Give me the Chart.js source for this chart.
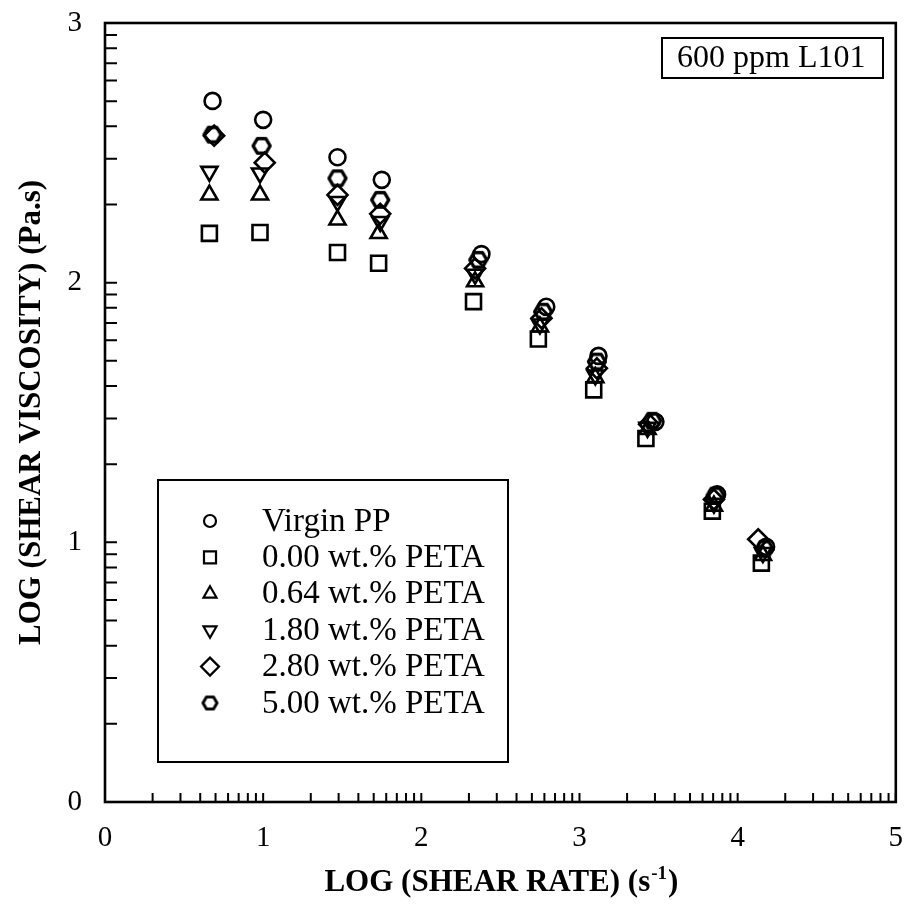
<!DOCTYPE html>
<html>
<head>
<meta charset="utf-8">
<script src="https://cdn.jsdelivr.net/npm/chart.js@4.4.1/dist/chart.umd.min.js"></script>
<style>
  html, body { margin: 0; padding: 0; background: #fff; }
  #wrap { width: 909px; height: 918px; }
</style>
</head>
<body>
<div id="wrap"><canvas id="c" width="909" height="918"></canvas></div>
<script>
// ---- data: log(shear rate) vs log(shear viscosity), 600 ppm L101 ----
const seriesNames = ['Virgin PP', '0.00 wt.% PETA', '0.64 wt.% PETA', '1.80 wt.% PETA', '2.80 wt.% PETA', '5.00 wt.% PETA'];

const virginRate = [0.68, 1.00, 1.47, 1.75, 2.38, 2.79, 3.12, 3.48, 3.87, 4.18];
const virginVisc = [2.700, 2.627, 2.483, 2.396, 2.110, 1.907, 1.718, 1.464, 1.185, 0.983];

const peta000Rate = [0.66, 0.98, 1.47, 1.73, 2.33, 2.74, 3.09, 3.42, 3.84, 4.15];
const peta000Visc = [2.190, 2.193, 2.116, 2.075, 1.927, 1.783, 1.587, 1.400, 1.120, 0.920];

const peta064Rate = [0.66, 0.98, 1.47, 1.73, 2.34, 2.75, 3.10, 3.43, 3.85, 4.16];
const peta064Visc = [2.338, 2.338, 2.242, 2.190, 2.004, 1.830, 1.635, 1.435, 1.140, 0.950];

const peta180Rate = [0.66, 0.98, 1.47, 1.74, 2.34, 2.75, 3.10, 3.43, 3.85, 4.16];
const peta180Visc = [2.428, 2.422, 2.312, 2.235, 2.032, 1.840, 1.644, 1.442, 1.150, 0.960];

const peta280Rate = [0.69, 1.01, 1.47, 1.74, 2.34, 2.76, 3.11, 3.44, 3.85, 4.13];
const peta280Visc = [2.566, 2.462, 2.338, 2.265, 2.055, 1.863, 1.670, 1.455, 1.165, 1.012];

const peta500Rate = [0.68, 0.99, 1.47, 1.74, 2.36, 2.77, 3.11, 3.46, 3.86, 4.17];
const peta500Visc = [2.570, 2.527, 2.402, 2.319, 2.088, 1.888, 1.696, 1.468, 1.180, 0.975];

const xTickLabels = ['0', '1', '2', '3', '4', '5'];
const yTickLabels = ['0', '1', '2', '3'];

// ---- styling ----
const SERIF = '"Liberation Serif", "Times New Roman", serif';

// hexagon marker (flat top and bottom) rendered once into a small canvas
function hexagonCanvas(R, lw) {
  const size = Math.ceil(2 * R + lw + 2);
  const cv = document.createElement('canvas');
  cv.width = size; cv.height = size;
  const g = cv.getContext('2d');
  g.strokeStyle = '#000';
  g.lineWidth = lw;
  g.lineJoin = 'round';
  g.beginPath();
  for (let i = 0; i < 6; i++) {
    const a = i * Math.PI / 3;
    const px = size / 2 + R * Math.cos(a);
    const py = size / 2 + R * Math.sin(a);
    if (i === 0) g.moveTo(px, py); else g.lineTo(px, py);
  }
  g.closePath();
  g.stroke();
  g.stroke();
  return cv;
}

const markerStyles = [
  { pointStyle: 'circle',   radius: 8,    rotation: 0,   legendRadius: 6 },
  { pointStyle: 'rect',     radius: 10.6, rotation: 0,   legendRadius: 8.5 },
  { pointStyle: 'triangle', radius: 9.3,  rotation: 0,   legendRadius: 7.5 },
  { pointStyle: 'triangle', radius: 9.3,  rotation: 180, legendRadius: 7.5 },
  { pointStyle: 'rectRot',  radius: 10,   rotation: 0,   legendRadius: 9 },
  { pointStyle: hexagonCanvas(8.5, 3), radius: 9, rotation: 0, legendRadius: 7, legendStyle: hexagonCanvas(7, 2.6) }
];

const rates = [virginRate, peta000Rate, peta064Rate, peta180Rate, peta280Rate, peta500Rate];
const viscs = [virginVisc, peta000Visc, peta064Visc, peta180Visc, peta280Visc, peta500Visc];

const datasets = seriesNames.map((name, i) => ({
  label: name,
  data: rates[i].map((r, j) => ({ x: r, y: viscs[i][j] })),
  pointStyle: markerStyles[i].pointStyle,
  pointRadius: markerStyles[i].radius,
  pointRotation: markerStyles[i].rotation,
  pointBorderWidth: 2.6,
  pointBorderColor: '#000',
  pointBackgroundColor: 'rgba(0,0,0,0)',
  showLine: false
}));

// log-decade minor tick positions
function decadeTicks(lo, hi) {
  const out = [];
  for (let d = lo; d < hi; d++) {
    for (let k = 2; k <= 10; k++) out.push(d + Math.log10(k));
  }
  return out;
}

const frameAndTicks = {
  id: 'frameAndTicks',
  beforeDatasetsDraw(chart) {
    const { ctx, chartArea: a, scales: { x, y } } = chart;
    ctx.save();
    ctx.strokeStyle = '#000';
    ctx.lineWidth = 2.6;
    ctx.strokeRect(a.left, a.top, a.right - a.left, a.bottom - a.top);
    ctx.lineWidth = 2;
    ctx.beginPath();
    decadeTicks(0, 5).forEach(v => {
      const px = x.getPixelForValue(v);
      ctx.moveTo(px, a.bottom);
      ctx.lineTo(px, a.bottom - 9);
    });
    decadeTicks(0, 3).forEach(v => {
      const py = y.getPixelForValue(v);
      ctx.moveTo(a.left, py);
      ctx.lineTo(a.left + 12, py);
    });
    ctx.stroke();
    ctx.restore();
  }
};

const xTitle = {
  id: 'xTitle',
  afterDraw(chart) {
    const { ctx, chartArea: a } = chart;
    const main = 'LOG (SHEAR RATE) (s';
    const sup = '-1';
    const tail = ')';
    ctx.save();
    ctx.fillStyle = '#000';
    ctx.textBaseline = 'alphabetic';
    ctx.font = 'bold 31px ' + SERIF;
    const wMain = ctx.measureText(main).width;
    const wTail = ctx.measureText(tail).width;
    ctx.font = 'bold 19px ' + SERIF;
    const wSup = ctx.measureText(sup).width;
    const total = wMain + wSup + wTail;
    let x0 = (a.left + a.right) / 2 - total / 2;
    const base = 891;
    ctx.font = 'bold 31px ' + SERIF;
    ctx.fillText(main, x0, base);
    ctx.font = 'bold 19px ' + SERIF;
    ctx.fillText(sup, x0 + wMain + 1, base - 12);
    ctx.font = 'bold 31px ' + SERIF;
    ctx.fillText(tail, x0 + wMain + wSup + 2, base);
    ctx.restore();
  }
};

const boxes = {
  id: 'boxes',
  afterDatasetsDraw(chart) {
    const { ctx } = chart;
    ctx.save();
    // sample label
    ctx.strokeStyle = '#000';
    ctx.lineWidth = 2;
    ctx.fillStyle = '#fff';
    ctx.fillRect(662, 38, 221, 40);
    ctx.strokeRect(662, 38, 221, 40);
    ctx.fillStyle = '#000';
    ctx.font = '32px ' + SERIF;
    ctx.textBaseline = 'middle';
    ctx.fillText('600 ppm L101', 677, 59);

    // legend
    ctx.fillStyle = '#fff';
    ctx.fillRect(158, 480, 350, 282);
    ctx.strokeRect(158, 480, 350, 282);
    const rowY0 = 521, rowStep = 36.4;
    seriesNames.forEach((name, i) => {
      const cy = rowY0 + i * rowStep;
      const m = markerStyles[i];
      ctx.strokeStyle = '#000';
      ctx.fillStyle = 'rgba(0,0,0,0)';
      ctx.lineWidth = 2.2;
      Chart.helpers.drawPoint(ctx, {
        pointStyle: m.legendStyle || m.pointStyle,
        radius: m.legendRadius,
        rotation: m.rotation,
        borderWidth: 2.2
      }, 210, cy);
      ctx.fillStyle = '#000';
      ctx.font = '33px ' + SERIF;
      ctx.textBaseline = 'middle';
      ctx.fillText(name, 262, cy + 1);
    });
    ctx.restore();
  }
};

new Chart(document.getElementById('c'), {
  type: 'scatter',
  data: { datasets },
  options: {
    responsive: false,
    animation: false,
    devicePixelRatio: 1,
    layout: { padding: { left: 0, right: 11, top: 23, bottom: 0 } },
    plugins: { legend: { display: false }, tooltip: { enabled: false } },
    scales: {
      x: {
        type: 'linear', min: 0, max: 5,
        afterFit(s) { s.height = 116; s.paddingLeft = 0; s.paddingRight = 0; },
        afterBuildTicks(s) { s.ticks = xTickLabels.map(t => ({ value: Number(t) })); },
        ticks: {
          autoSkip: false, maxRotation: 0, padding: 19, color: '#000',
          font: { family: SERIF, size: 29 },
          callback: v => xTickLabels[v]
        },
        grid: { display: false, drawTicks: false },
        border: { display: false },
        title: { display: false }
      },
      y: {
        type: 'linear', min: 0, max: 3,
        afterFit(s) { s.width = 105; s.paddingTop = 0; s.paddingBottom = 0; },
        afterBuildTicks(s) { s.ticks = yTickLabels.map(t => ({ value: Number(t) })); },
        ticks: {
          autoSkip: false, padding: 23, color: '#000',
          font: { family: SERIF, size: 29 },
          callback: v => yTickLabels[v]
        },
        grid: { display: false, drawTicks: false },
        border: { display: false },
        title: {
          display: true,
          text: 'LOG (SHEAR VISCOSITY) (Pa.s)',
          color: '#000',
          font: { family: SERIF, size: 31, weight: 'bold' },
          padding: { top: 13, bottom: 0 }
        }
      }
    }
  },
  plugins: [frameAndTicks, boxes, xTitle]
});
</script>
</body>
</html>
